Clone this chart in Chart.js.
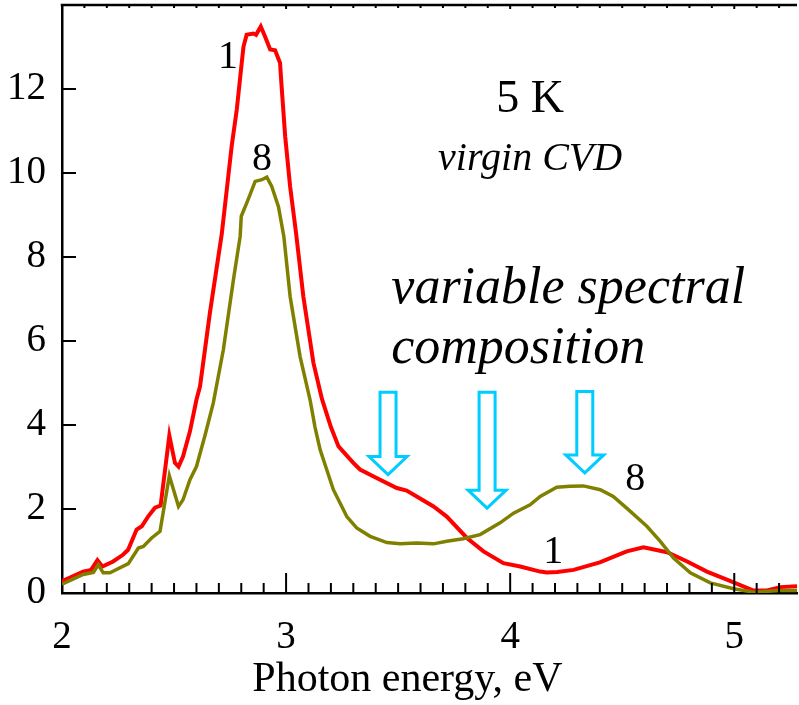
<!DOCTYPE html>
<html>
<head>
<meta charset="utf-8">
<script src="https://cdn.jsdelivr.net/npm/chart.js@4"></script>
<style>
  html, body { margin: 0; padding: 0; background: #fff; }
  #wrap { width: 799px; height: 705px; }
</style>
</head>
<body>
<div id="wrap"><canvas id="spectra" width="799" height="705"></canvas></div>
<script>
// spectrum 1 (red)
const energy1 = [2.00, 2.094, 2.13, 2.158, 2.18, 2.228, 2.272, 2.295, 2.333, 2.356, 2.384, 2.415, 2.44,
  2.479, 2.504, 2.52, 2.54, 2.571, 2.60, 2.616, 2.66, 2.713, 2.757, 2.78, 2.802, 2.81, 2.824, 2.854,
  2.866, 2.887, 2.906, 2.929, 2.951, 2.973, 2.98, 2.996, 3.018, 3.045, 3.077, 3.122, 3.16, 3.20,
  3.234, 3.30, 3.33, 3.404, 3.494, 3.538, 3.583, 3.658, 3.717, 3.807, 3.881, 3.97, 4.045, 4.134,
  4.164, 4.21, 4.283, 4.40, 4.52, 4.595, 4.70, 4.79, 4.878, 4.967, 5.086, 5.146, 5.205, 5.28];
const signal1 = [0.28, 0.51, 0.55, 0.78, 0.63, 0.75, 0.91, 1.03, 1.51, 1.59, 1.82, 2.03, 2.08,
  3.75, 3.10, 3.01, 3.25, 3.85, 4.6, 4.92, 6.67, 8.55, 10.63, 11.51, 12.62, 13.01, 13.29, 13.32,
  13.29, 13.49, 13.25, 12.94, 12.92, 12.62, 12.06, 10.87, 9.68, 8.55, 7.06, 5.48, 4.62, 3.95,
  3.49, 3.10, 2.94, 2.74, 2.50, 2.44, 2.30, 2.06, 1.82, 1.31, 0.99, 0.71, 0.63, 0.51,
  0.49, 0.50, 0.55, 0.73, 0.99, 1.09, 0.97, 0.75, 0.51, 0.32, 0.06, 0.06, 0.14, 0.16];

// spectrum 8 (olive)
const energy8 = [2.00, 2.095, 2.14, 2.162, 2.184, 2.214, 2.296, 2.341, 2.363, 2.40, 2.4375, 2.479,
  2.52, 2.54, 2.571, 2.60, 2.638, 2.675, 2.72, 2.765, 2.795, 2.80, 2.83, 2.862, 2.892, 2.914, 2.936,
  2.966, 2.99, 3.018, 3.0625, 3.107, 3.129, 3.152, 3.211, 3.271, 3.315, 3.375, 3.45, 3.509, 3.583,
  3.658, 3.717, 3.79, 3.866, 3.955, 4.015, 4.089, 4.134, 4.208, 4.268, 4.327, 4.402, 4.46, 4.52,
  4.61, 4.67, 4.729, 4.804, 4.893, 4.997, 5.086, 5.205, 5.28];
const signal8 = [0.21, 0.44, 0.49, 0.67, 0.48, 0.48, 0.70, 1.07, 1.11, 1.31, 1.47, 2.79,
  2.06, 2.22, 2.70, 3.01, 3.75, 4.52, 5.79, 7.46, 8.49, 8.97, 9.36, 9.80, 9.84, 9.90, 9.68,
  9.20, 8.49, 7.06, 5.63, 4.60, 3.95, 3.41, 2.46, 1.82, 1.55, 1.35, 1.20, 1.17, 1.19,
  1.17, 1.23, 1.29, 1.39, 1.67, 1.90, 2.10, 2.30, 2.52, 2.54, 2.55, 2.46, 2.30, 2.02,
  1.59, 1.23, 0.83, 0.48, 0.24, 0.10, 0.02, 0.06, 0.06];

const xTicks = [2, 3, 4, 5];
const yTicks = [0, 2, 4, 6, 8, 10, 12];
const xTitle = 'Photon energy, eV';

// arrows: x position, top and tip (data units)
const arrowX = [3.455, 3.897, 4.333];
const arrowTop = [4.78, 4.78, 4.80];
const arrowTip = [2.82, 2.02, 2.86];

// text labels
const notes = [
  { text: '1', x: 2.741, y: 12.74, style: '' , size: 40 },
  { text: '8', x: 2.893, y: 10.32, style: '', size: 40 },
  { text: '5 K', x: 4.089, y: 11.74, style: '', size: 46 },
  { text: 'virgin CVD', x: 4.089, y: 10.32, style: 'italic', size: 40 },
  { text: 'variable spectral', x: 4.259, y: 7.22, style: 'italic', size: 52 },
  { text: 'composition', x: 4.036, y: 5.79, style: 'italic', size: 52 },
  { text: '8', x: 4.558, y: 2.70, style: '', size: 40 },
  { text: '1', x: 4.192, y: 0.96, style: '', size: 40 }
];

const serif = '"Liberation Serif", "Times New Roman", serif';

function toPoints(xs, ys) {
  return xs.map((x, i) => ({ x: x, y: ys[i] }));
}

const decorPlugin = {
  id: 'decor',
  afterDraw(chart) {
    const ctx = chart.ctx;
    const xs = chart.scales.x;
    const ys = chart.scales.y;
    const area = chart.chartArea;
    ctx.save();
    // frame top
    ctx.strokeStyle = '#000';
    ctx.lineWidth = 2.5;
    ctx.beginPath();
    ctx.moveTo(area.left - 1.25, area.top);
    ctx.lineTo(area.right, area.top);
    ctx.stroke();
    // inward ticks on x axis
    ctx.lineWidth = 2;
    for (let i = 21; i <= 52; i++) {
      const v = i / 10;
      const px = xs.getPixelForValue(v);
      const major = i % 10 === 0;
      ctx.beginPath();
      ctx.moveTo(px, area.bottom);
      ctx.lineTo(px, area.bottom - (major ? 20 : 10));
      ctx.stroke();
      ctx.beginPath();
      ctx.moveTo(px, area.top);
      ctx.lineTo(px, area.top + (major ? 4 : 3));
      ctx.stroke();
    }
    // inward ticks on y axis
    for (const v of yTicks) {
      if (v === 0) continue;
      const py = ys.getPixelForValue(v);
      ctx.beginPath();
      ctx.moveTo(area.left, py);
      ctx.lineTo(area.left + 14, py);
      ctx.stroke();
    }
    // arrows
    ctx.strokeStyle = '#00CCFF';
    ctx.lineWidth = 3;
    ctx.lineJoin = 'miter';
    arrowX.forEach((ax, i) => {
      const cx = xs.getPixelForValue(ax);
      const top = ys.getPixelForValue(arrowTop[i]);
      const tip = ys.getPixelForValue(arrowTip[i]);
      const base = tip - 18;
      ctx.beginPath();
      ctx.moveTo(cx - 8, top);
      ctx.lineTo(cx + 8, top);
      ctx.lineTo(cx + 8, base);
      ctx.lineTo(cx + 19, base);
      ctx.lineTo(cx, tip);
      ctx.lineTo(cx - 19, base);
      ctx.lineTo(cx - 8, base);
      ctx.closePath();
      ctx.stroke();
    });
    // text
    ctx.fillStyle = '#000';
    ctx.textAlign = 'center';
    ctx.textBaseline = 'middle';
    for (const n of notes) {
      ctx.font = `${n.style} ${n.size}px ${serif}`;
      ctx.fillText(n.text, xs.getPixelForValue(n.x), ys.getPixelForValue(n.y));
    }
    // axis title, sits a bit left of centre in the original
    ctx.font = `42px ${serif}`;
    ctx.fillText(xTitle, area.left + (area.right - area.left) * 0.47, chart.height - 25);
    ctx.restore();
  }
};

new Chart(document.getElementById('spectra'), {
  type: 'line',
  data: {
    datasets: [
      {
        label: '8',
        data: toPoints(energy8, signal8),
        borderColor: '#808000',
        borderWidth: 3.5,
        pointRadius: 0,
        tension: 0
      },
      {
        label: '1',
        data: toPoints(energy1, signal1),
        borderColor: '#FF0000',
        borderWidth: 4,
        pointRadius: 0,
        tension: 0
      }
    ]
  },
  options: {
    responsive: false,
    animation: false,
    layout: { padding: { top: 5, right: 2, left: 0, bottom: 0 } },
    plugins: {
      legend: { display: false },
      tooltip: { enabled: false }
    },
    scales: {
      x: {
        type: 'linear',
        min: 2,
        max: 5.28,
        afterBuildTicks: (scale) => { scale.ticks = xTicks.map(v => ({ value: v })); },
        afterFit: (scale) => {
          scale.height = 112;
          scale.paddingLeft = 0;
          scale.paddingRight = 0;
        },
        grid: { drawOnChartArea: false, drawTicks: false },
        border: { display: true, color: '#000', width: 2.5 },
        ticks: {
          color: '#000',
          padding: 21,
          maxRotation: 0,
          font: { family: serif, size: 39 }
        }
      },
      y: {
        type: 'linear',
        min: 0,
        max: 14,
        afterBuildTicks: (scale) => { scale.ticks = yTicks.map(v => ({ value: v })); },
        afterFit: (scale) => {
          scale.width = 62;
          scale.paddingTop = 0;
          scale.paddingBottom = 0;
        },
        grid: { drawOnChartArea: false, drawTicks: false },
        border: { display: true, color: '#000', width: 2.5 },
        ticks: {
          color: '#000',
          padding: 16,
          font: { family: serif, size: 39 }
        }
      }
    }
  },
  plugins: [decorPlugin]
});
</script>
</body>
</html>
